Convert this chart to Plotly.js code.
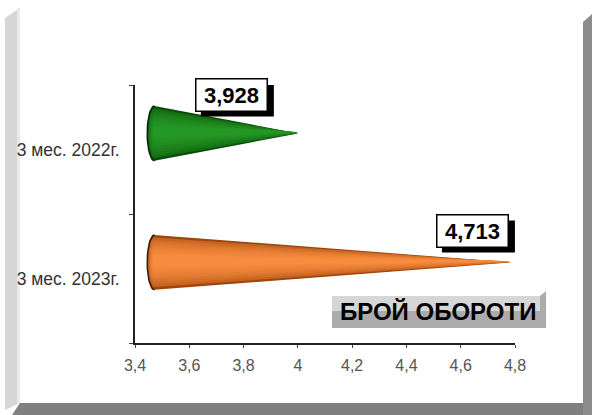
<!DOCTYPE html>
<html>
<head>
<meta charset="utf-8">
<script src="https://cdn.plot.ly/plotly-3.0.1.min.js"></script>
<style>html,body{margin:0;padding:0;background:#fff;}#chart{width:592px;height:415px;}</style>
</head>
<body>
<div id="chart"></div>
<script>
// ---- data ----
const categories = ["3 мес. 2023г.", "3 мес. 2022г."]; // bottom to top
const values = [4.713, 3.928];
const seriesTitle = "БРОЙ ОБОРОТИ";
const xRange = [3.4, 4.8];

// ---- styles ----
const W = 592, H = 415;
const M = {l: 135, r: 77, t: 85, b: 72};
const FONT = "Liberation Sans, Arial, sans-serif";
const coneStyles = [
  {dark: [160, 70, 12], light: [248, 140, 62], edge: "#3a1a05"},
  {dark: [8, 78, 8], light: [36, 152, 36], edge: "#032a03"}
];
const labelShift = [[-38, 31], [-66, 38]];
const DEPTH_X = 0.072, DEPTH_Y = 0.125, HALF_H = 0.213, ELL_X = 0.027;

function conePoly(bx, tx, cy, h, ex) {
  const xs = [], ys = [];
  xs.push(bx); ys.push(cy + h);
  xs.push(tx); ys.push(cy);
  xs.push(bx); ys.push(cy - h);
  for (let i = 0; i <= 24; i++) {
    const t = -Math.PI / 2 + Math.PI * i / 24;
    xs.push(bx - ex * Math.cos(t)); ys.push(cy + h * Math.sin(t));
  }
  return {xs, ys};
}
function mix(a, b, t) {
  return "rgb(" + a.map((c, i) => Math.round(c + (b[i] - c) * t)).join(",") + ")";
}

const traces = [];
const annotations = [];
const shapes = [];
values.forEach((v, i) => {
  const st = coneStyles[i];
  const bx = xRange[0] + DEPTH_X, tx = v + DEPTH_X;
  const cy = i + 0.5 + DEPTH_Y;
  const N = 9;
  for (let s = 0; s < N; s++) {
    const f = s / (N - 1);
    const k = 1 - 0.78 * f;
    const t = Math.pow(f, 0.4);
    const p = conePoly(bx, tx, cy + 0.05 * f * HALF_H, HALF_H * k, ELL_X * k);
    const c = mix(st.dark, st.light, t);
    traces.push({type: "scatter", mode: "lines", x: p.xs, y: p.ys, fill: "toself",
      fillcolor: c, line: {width: 0, color: c}, hoverinfo: "skip", showlegend: false});
  }
  // dark base rim
  const rx = [], ry = [];
  for (let j = 0; j <= 24; j++) {
    const t = -Math.PI / 2 + Math.PI * j / 24;
    rx.push(bx - ELL_X * Math.cos(t)); ry.push(cy + HALF_H * Math.sin(t));
  }
  traces.push({type: "scatter", mode: "lines", x: rx, y: ry, line: {width: 1.5, color: st.edge},
    hoverinfo: "skip", showlegend: false});

  const txt = v.toFixed(3).replace(".", ",");
  const sx = labelShift[i][0], sy = labelShift[i][1];
  // shadow of the label box
  shapes.push({type: "rect", xref: "x", yref: "y", xsizemode: "pixel", ysizemode: "pixel",
    xanchor: tx, yanchor: cy, x0: sx - 36 + 5, x1: sx + 37 + 5, y0: sy - 16 - 5, y1: sy + 16 - 5,
    fillcolor: "#000", line: {width: 0}, layer: "above"});
  annotations.push({x: tx, y: cy, xref: "x", yref: "y", showarrow: false, text: "<b>" + txt + "</b>",
    font: {family: FONT, size: 22, color: "#000"}, width: 64, height: 25, borderpad: 3, borderwidth: 1.5,
    bgcolor: "#fff", bordercolor: "#000", xshift: sx, yshift: sy, xanchor: "center", yanchor: "middle"});
});

// pixel -> paper helpers for decoration
const pw = W - M.l - M.r, ph = H - M.t - M.b;
const px = x => (x - M.l) / pw;
const py = y => (H - M.b - y) / ph;
function poly(pts) {
  return "M" + pts.map(p => px(p[0]) + "," + py(p[1])).join("L") + "Z";
}
shapes.push(
  {type: "path", xref: "paper", yref: "paper", path: poly([[5, 18], [20, 8], [20, 403], [5, 410]]),
    fillcolor: "#d6d6d6", line: {width: 0}, layer: "below"},
  {type: "path", xref: "paper", yref: "paper", path: poly([[17, 8], [20, 8], [20, 403], [17, 404]]),
    fillcolor: "#e9e9e9", line: {width: 0}, layer: "below"},
  {type: "path", xref: "paper", yref: "paper", path: poly([[583, 22], [592, 14], [592, 415], [583, 415]]),
    fillcolor: "#8c8c8c", line: {width: 0}, layer: "below"},
  {type: "path", xref: "paper", yref: "paper", path: poly([[20, 403], [583, 403], [583, 415], [12, 415]]),
    fillcolor: "#7f7f7f", line: {width: 0}, layer: "below"},
  // series title box
  {type: "path", xref: "paper", yref: "paper", path: poly([[332, 296], [540, 296], [546, 291], [546, 328], [332, 328]]),
    fillcolor: "#ababab", line: {width: 0}, layer: "above"},
  {type: "path", xref: "paper", yref: "paper", path: poly([[332, 296], [540, 296], [540, 311], [332, 311]]),
    fillcolor: "#d6d6d6", line: {width: 0}, layer: "above"}
);
annotations.push({xref: "paper", yref: "paper", x: px(438), y: py(311), xanchor: "center", yanchor: "middle",
  showarrow: false, text: "<b>" + seriesTitle + "</b>", font: {family: FONT, size: 24, color: "#000"}});

const layout = {
  width: W, height: H,
  margin: M,
  paper_bgcolor: "#fff", plot_bgcolor: "rgba(0,0,0,0)",
  separators: ", ",
  showlegend: false,
  font: {family: FONT},
  xaxis: {range: xRange, dtick: 0.2, tick0: 3.4, showgrid: false, zeroline: false,
    showline: true, linecolor: "#222", linewidth: 2, ticks: "outside", ticklen: 3, tickcolor: "#444",
    tickfont: {family: FONT, size: 16, color: "#555"}, ticklabelstandoff: 4, fixedrange: true},
  yaxis: {range: [0, 2], tickmode: "array", tickvals: [0.5, 1.5], ticktext: categories,
    showgrid: false, zeroline: false, showline: true, linecolor: "#222", linewidth: 2,
    ticks: "", tickfont: {family: FONT, size: 17.5, color: "#333"}, ticklabelstandoff: 10,
    minor: {tickmode: "linear", tick0: 0, dtick: 1, ticks: "outside", ticklen: 4, tickcolor: "#444", showgrid: false},
    fixedrange: true},
  shapes: shapes,
  annotations: annotations
};

Plotly.newPlot("chart", traces, layout, {displayModeBar: false, staticPlot: true});
</script>
</body>
</html>
